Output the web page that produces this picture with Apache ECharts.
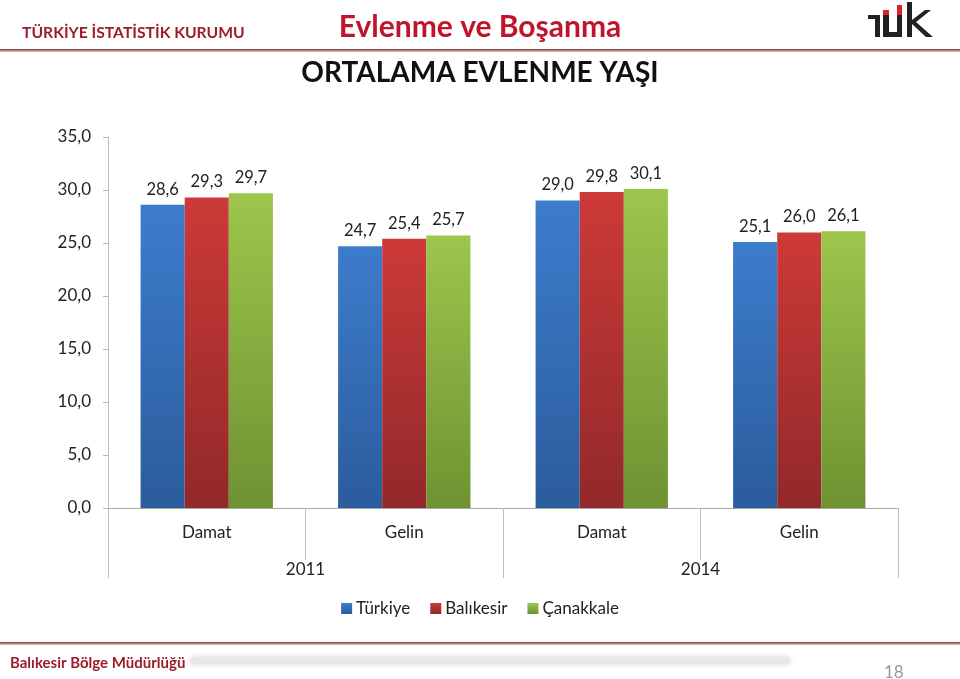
<!DOCTYPE html>
<html><head><meta charset="utf-8">
<script src="https://cdn.jsdelivr.net/npm/echarts@6/dist/echarts.min.js"></script>
<style>html,body{margin:0;padding:0;background:#fff}#c{width:960px;height:679px}</style>
</head><body><div id="c"></div>
<script>
const categories = ['Damat', 'Gelin', 'Damat', 'Gelin'];
const years = ['2011', '2014'];
const seriesNames = ['Türkiye', 'Balıkesir', 'Çanakkale'];
const turkiye = [28.6, 24.7, 29.0, 25.1];
const balikesir = [29.3, 25.4, 29.8, 26.0];
const canakkale = [29.7, 25.7, 30.1, 26.1];
const yTicks = [0, 5, 10, 15, 20, 25, 30, 35];

const F = 'Lato, "Open Sans", sans-serif';
function grad(top, bottom) {
  return new echarts.graphic.LinearGradient(0, 0, 0, 1, [{offset: 0, color: top}, {offset: 1, color: bottom}]);
}
const colors = [
  [grad('#3d7ccc', '#2b5c9c'), '#3a78c9'],
  [grad('#cc3a38', '#92282a'), '#c0393b'],
  [grad('#9cc64c', '#6e9232'), '#8db544']
];
const fmt = v => v.toFixed(1).replace('.', ',');
const lineGrad = () => new echarts.graphic.LinearGradient(0,0,0,1,[{offset:0,color:'#8a2a2e'},{offset:1,color:'#e0d0d0'}]);

const chart = echarts.init(document.getElementById('c'));
const data = [turkiye, balikesir, canakkale];
chart.setOption({
  animation: false,
  textStyle: {fontFamily: F},
  grid: {left: 108, right: 62, top: 137, bottom: 171},
  legend: {
    bottom: 57, left: 'center', itemWidth: 11, itemHeight: 11, itemGap: 20,
    icon: 'rect',
    textStyle: {fontSize: 17, color: '#222', fontFamily: F, padding: [0, 0, 0, -1]},
    data: seriesNames
  },
  xAxis: [{
    type: 'category', data: categories, position: 'bottom',
    axisLine: {show: true, lineStyle: {color: '#aaa'}},
    axisTick: {show: true, length: 52, lineStyle: {color: '#bbb'}},
    axisLabel: {fontSize: 17, color: '#222', margin: 16, fontFamily: F}
  }, {
    type: 'category', data: years, position: 'bottom',
    axisLine: {show: false},
    axisTick: {show: true, length: 70, lineStyle: {color: '#bbb'}},
    axisLabel: {fontSize: 17, color: '#222', margin: 53, fontFamily: F}
  }],
  yAxis: {
    type: 'value', min: yTicks[0], max: yTicks[yTicks.length - 1], interval: 5,
    splitLine: {show: false},
    axisLine: {show: true, lineStyle: {color: '#bbb'}},
    axisTick: {show: true, length: 5, lineStyle: {color: '#bbb'}},
    axisLabel: {fontSize: 17, color: '#222', margin: 17, formatter: v => fmt(v), fontFamily: F}
  },
  series: data.map((d, i) => ({
    name: seriesNames[i], type: 'bar', xAxisIndex: 0, data: d,
    barGap: '0%', barCategoryGap: '33%',
    itemStyle: {color: colors[i][0]},
    label: {show: true, position: 'top', distance: 7, fontSize: 16.5, color: '#222', fontFamily: F, formatter: p => fmt(p.value)}
  })),
  color: colors.map(c => c[1]),
  graphic: [
    {type: 'text', left: 22, top: 25, style: {text: 'TÜRKİYE İSTATİSTİK KURUMU', fontSize: 15.7, fontWeight: 'bold', fill: '#9b1c2c', fontFamily: F}},
    {type: 'text', left: 'center', top: 12, style: {text: 'Evlenme ve Boşanma', fontSize: 30, fontWeight: 'bold', fill: '#c0142a', fontFamily: F}},
    {type: 'group', children: [
      {type: 'rect', shape: {x: 868, y: 15, width: 12, height: 4}, style: {fill: '#222'}},
      {type: 'rect', shape: {x: 875, y: 15, width: 5, height: 22}, style: {fill: '#222'}},
      {type: 'rect', shape: {x: 883, y: 10, width: 6, height: 27}, style: {fill: '#222'}},
      {type: 'rect', shape: {x: 883, y: 10, width: 6, height: 5}, style: {fill: '#e0202a'}},
      {type: 'rect', shape: {x: 883, y: 32, width: 19, height: 5}, style: {fill: '#222'}},
      {type: 'rect', shape: {x: 897, y: 5, width: 5, height: 32}, style: {fill: '#222'}},
      {type: 'rect', shape: {x: 897, y: 5, width: 5, height: 10}, style: {fill: '#e0202a'}},
      {type: 'rect', shape: {x: 907, y: 2, width: 5, height: 35}, style: {fill: '#222'}},
      {type: 'polygon', shape: {points: [[912, 20], [925, 10], [931, 10], [916, 22], [933, 37], [926, 37], [912, 24]]}, style: {fill: '#222'}}
    ]},
    {type: 'rect', shape: {x: 0, y: 49, width: 960, height: 3}, style: {fill: lineGrad()}},
    {type: 'text', left: 'center', top: 59, style: {text: 'ORTALAMA EVLENME YAŞI', fontSize: 28, fontWeight: 'bold', fill: '#111', fontFamily: F}},
    {type: 'rect', shape: {x: 0, y: 642, width: 960, height: 3}, style: {fill: lineGrad()}},
    {type: 'rect', shape: {x: 190, y: 657, width: 600, height: 7, r: 4}, style: {fill: '#e8e8e8', shadowBlur: 6, shadowColor: '#d8d8d8'}},
    {type: 'text', left: 10, top: 656, style: {text: 'Balıkesir Bölge Müdürlüğü', fontSize: 15, fontWeight: 'bold', fill: '#9b1c2c', fontFamily: F}},
    {type: 'text', left: 884, top: 664, style: {text: '18', fontSize: 17, fill: '#999', fontFamily: F}}
  ]
});
</script></body></html>
